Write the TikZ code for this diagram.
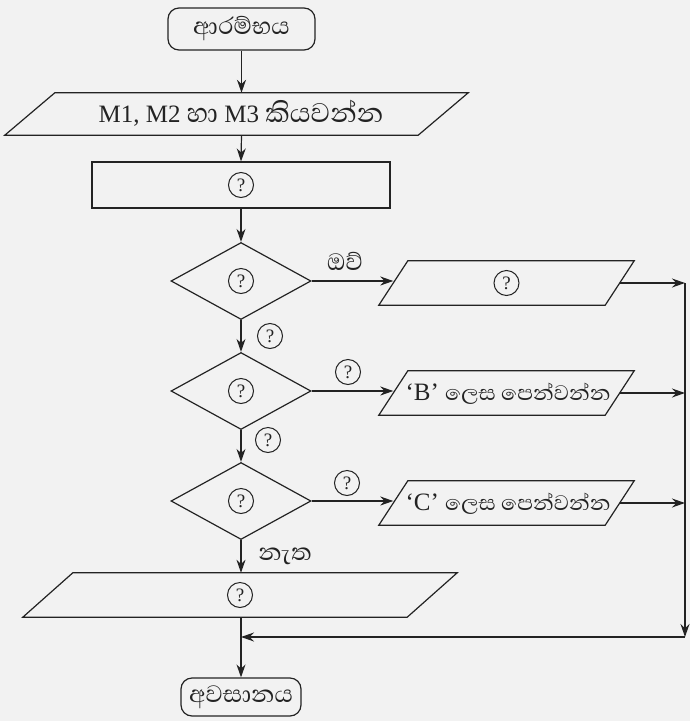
\documentclass[tikz,border=0pt]{standalone}
\usepackage{fontspec}
\setmainfont{Liberation Serif}
\newfontfamily\sinhfont[Script=Sinhala, Scale=1.38]{Abhaya Libre}
\usetikzlibrary{shapes.geometric,arrows.meta}
\definecolor{bgc}{RGB}{242,242,242}
\definecolor{ink}{RGB}{35,35,35}
\newcommand\si[1]{{\sinhfont #1}}
\newcommand\sis[1]{{\sinhfont\fontsize{19.5}{24}\selectfont #1}}
% draws a parallelogram around rectangle node #1 with horizontal slant #2
\newcommand\paraoutline[2]{\draw[shp] ([xshift=-#2/2]#1.south west) -- ([xshift=#2/2]#1.north west) -- ([xshift=#2/2]#1.north east) -- ([xshift=-#2/2]#1.south east) -- cycle;}
\begin{document}
\begin{tikzpicture}[x=1pt,y=-1pt,
  every node/.style={text=ink},
  shp/.style={draw=ink, line width=1.2pt, inner sep=0pt},
  term/.style={shp, rectangle, rounded corners=11pt, font=\fontsize{22}{24}\selectfont},
  proc/.style={shp, rectangle},
  dia/.style={shp, diamond, minimum width=140pt, minimum height=77pt},
  pbox/.style={rectangle, inner sep=0pt},
  qc/.style={circle, draw=ink, line width=1pt, inner sep=0pt, minimum size=25pt, font=\fontsize{19}{19}\selectfont},
  lab/.style={inner sep=1pt, font=\fontsize{22}{24}\selectfont},
  big/.style={font=\fontsize{25}{28}\selectfont},
  arr/.style={draw=ink, line width=1.2pt, -{Stealth[length=13pt,width=9pt]}},
  ln/.style={draw=ink, line width=1.2pt}]
\fill[bgc] (0,0) rectangle (690,721);
\useasboundingbox (0,0) rectangle (690,721);

% main column
\node[term, minimum width=147pt, minimum height=42pt] (start) at (241.5,29) {\si{ආරම්භය}};
\node[pbox, minimum width=413pt, minimum height=42pt] (in) at (236.5,114) {};
\paraoutline{in}{50}
\node[big] (intext) at (241,113) {M1, M2 \si{හා} M3 \si{කියවන්න}};
\node[proc, minimum width=298pt, minimum height=46pt] (proc) at (241,185) {};
\node[qc] (procq) at (proc) {?};

\node[dia] (d1) at (241,281) {};
\node[qc] (d1q) at (d1) {?};
\node[dia] (d2) at (241,391) {};
\node[qc] (d2q) at (d2) {?};
\node[dia] (d3) at (241,501) {};
\node[qc] (d3q) at (d3) {?};

\node[pbox, minimum width=384pt, minimum height=44pt] (out) at (240,595) {};
\paraoutline{out}{50}
\node[qc] (outq) at (out) {?};
\node[term, minimum width=120pt, minimum height=38pt] (end) at (241,697) {\si{අවසානය}};

% right column
\node[pbox, minimum width=226pt, minimum height=44pt] (p1) at (506.5,283) {};
\paraoutline{p1}{29}
\node[qc] (p1q) at (p1) {?};
\node[pbox, minimum width=226pt, minimum height=44pt] (p2) at (506.5,393) {};
\paraoutline{p2}{29}
\node[big] (p2t) at (508,394) {‘B’ \sis{ලෙස පෙන්වන්න}};
\node[pbox, minimum width=226pt, minimum height=44pt] (p3) at (506.5,503) {};
\paraoutline{p3}{29}
\node[big] (p3t) at (508,504) {‘C’ \sis{ලෙස පෙන්වන්න}};

% rail coordinates
\coordinate (r1) at (685,283);
\coordinate (r2) at (685,393);
\coordinate (r3) at (685,503);
\coordinate (rb) at (685,637);
\coordinate (mg) at (241,637);

% connectors main
\draw[arr] (start.south) -- (start.south |- in.north);
\draw[arr] (start.south |- in.south) -- (proc.north);
\draw[arr] (proc.south) -- (d1.north);
\draw[arr] (d1.south) -- (d2.north);
\draw[arr] (d2.south) -- (d3.north);
\draw[arr] (d3.south) -- (d3.south |- out.north);
\draw[arr] (d3.south |- out.south) -- (end.north);

% branches
\draw[arr] (d1.east) -- (d1.east -| p1.west);
\draw[arr] (d2.east) -- (d2.east -| p2.west);
\draw[arr] (d3.east) -- (d3.east -| p3.west);
\draw[arr] (p1.east) -- (r1);
\draw[arr] (p2.east) -- (r2);
\draw[arr] (p3.east) -- (r3);
\draw[arr] (r1) -- (rb);
\draw[arr] (rb) -- (mg);

% labels
\node[lab] (yes) at (345,261) {\si{ඔව්}};
\node[qc] (l1) at (270,336) {?};
\node[qc] (l2) at (348,372) {?};
\node[qc] (l3) at (268,440) {?};
\node[qc] (l4) at (347,483) {?};
\node[lab] (no) at (285,556) {\si{නැත}};
\end{tikzpicture}
\end{document}
